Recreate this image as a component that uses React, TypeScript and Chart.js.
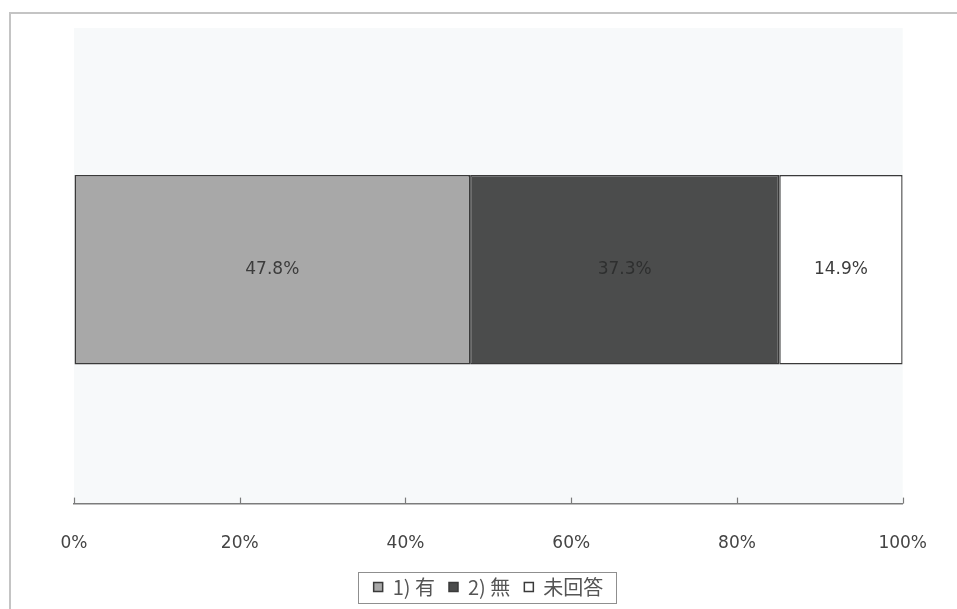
import React, { useEffect, useRef } from "react";
import { Chart, registerables } from "chart.js";

Chart.register(...registerables);

// Single stacked 100% bar: answers to one yes/no question
const categories = [""];
const seriesNames = ["1) 有", "2) 無", "未回答"];
const yesValues = [47.8];
const noValues = [37.3];
const noAnswerValues = [14.9];
const tickLabels = ["0%", "20%", "40%", "60%", "80%", "100%"];

const seriesColors = ["#a8a8a8", "#4b4c4c", "#ffffff"];
const barEdge = "#3a3a3a";

const frameColor = "#c4c4c4";
const plotTint = "#f7f9fa";
const textColor = "#444444";
const labelFont = "'DejaVu Sans', 'Liberation Sans', sans-serif";
const cjkFont = "'Noto Sans CJK JP', 'DejaVu Sans', sans-serif";

const backdropPlugin = {
  id: "backdrop",
  beforeDraw(chart: any) {
    const { ctx, width, height, chartArea } = chart;
    ctx.save();
    ctx.fillStyle = "#ffffff";
    ctx.fillRect(0, 0, width, height);
    ctx.fillStyle = plotTint;
    ctx.fillRect(chartArea.left, chartArea.top - 8, chartArea.right - chartArea.left, chartArea.bottom - chartArea.top + 8);
    // outer frame (top and left edges)
    ctx.strokeStyle = frameColor;
    ctx.lineWidth = 2;
    ctx.beginPath();
    ctx.moveTo(width, 13);
    ctx.lineTo(10, 13);
    ctx.lineTo(10, height);
    ctx.stroke();
    ctx.restore();
  },
};

const valueLabelPlugin = {
  id: "valueLabels",
  afterDatasetsDraw(chart: any) {
    const { ctx } = chart;
    ctx.save();
    ctx.font = `17px ${labelFont}`;
    ctx.textAlign = "center";
    ctx.textBaseline = "middle";
    chart.data.datasets.forEach((ds: any, di: number) => {
      const meta = chart.getDatasetMeta(di);
      meta.data.forEach((bar: any, i: number) => {
        const v = ds.data[i];
        const cx = (bar.x + bar.base) / 2;
        ctx.fillStyle = di === 1 ? "#2e2f2f" : "#3c3c3c";
        ctx.fillText(`${v.toFixed(1)}%`, cx, bar.y);
      });
    });
    ctx.restore();
  },
};

const axisDecorPlugin = {
  id: "axisDecor",
  afterDraw(chart: any) {
    const { ctx } = chart;
    const scale = chart.scales.x;
    ctx.save();
    // short tick marks rising from the axis line
    ctx.strokeStyle = "#7a7a7a";
    ctx.lineWidth = 1.2;
    scale.ticks.forEach((_: any, i: number) => {
      const x = Math.round(scale.getPixelForTick(i)) + 0.5;
      ctx.beginPath();
      ctx.moveTo(x, scale.top);
      ctx.lineTo(x, scale.top - 6);
      ctx.stroke();
    });
    // frame around the legend
    const boxes = chart.legend.legendHitBoxes;
    if (boxes && boxes.length) {
      const l = Math.min(...boxes.map((b: any) => b.left));
      const r = Math.max(...boxes.map((b: any) => b.left + b.width));
      const t = Math.min(...boxes.map((b: any) => b.top));
      const b2 = Math.max(...boxes.map((b: any) => b.top + b.height));
      ctx.strokeStyle = "#8f8f8f";
      ctx.lineWidth = 1;
      ctx.strokeRect(Math.round(l - 16) + 0.5, Math.round(t - 5) + 0.5, Math.round(r - l + 28), Math.round(b2 - t + 11));
    }
    ctx.restore();
  },
};

export default function App() {
  const canvasRef = useRef<HTMLCanvasElement | null>(null);

  useEffect(() => {
    const canvas = canvasRef.current;
    if (!canvas) return;
    const seriesValues = [yesValues, noValues, noAnswerValues];
    const chart = new Chart(canvas, {
      type: "bar",
      data: {
        labels: categories,
        datasets: seriesNames.map((name, i) => ({
          label: name,
          data: seriesValues[i],
          backgroundColor: seriesColors[i],
          borderColor: barEdge,
          borderWidth: 1.5,
          borderSkipped: false,
          categoryPercentage: 0.81,
          barPercentage: 0.5,
        })),
      },
      options: {
        indexAxis: "y",
        animation: false,
        responsive: false,
        devicePixelRatio: 1,
        layout: { padding: { left: 74, right: 54, top: 36, bottom: 2 } },
        scales: {
          x: {
            stacked: true,
            min: 0,
            max: 100,
            grid: { display: true, drawOnChartArea: false, drawTicks: false },
            border: { display: true, color: "#7c7c7c", width: 1.5 },
            ticks: {
              stepSize: 20,
              padding: 30,
              color: textColor,
              font: { family: labelFont, size: 17 },
              callback: (_v: any, i: number) => tickLabels[i],
            },
            afterFit: (scale: any) => {
              scale.height -= 21;
            },
          },
          y: {
            stacked: true,
            display: false,
          },
        },
        plugins: {
          legend: {
            display: true,
            position: "bottom",
            labels: {
              boxWidth: 9,
              boxHeight: 9,
              padding: 14,
              color: "#555555",
              font: { family: cjkFont, size: 20 },
            },
          },
          tooltip: { enabled: false },
        },
      },
      plugins: [backdropPlugin, valueLabelPlugin, axisDecorPlugin],
    } as any);
    return () => chart.destroy();
  }, []);

  return (
    <div style={{ position: "fixed", left: 0, top: 0, width: 957, height: 609 }}>
      <canvas ref={canvasRef} width={957} height={609} style={{ display: "block" }} />
    </div>
  );
}
